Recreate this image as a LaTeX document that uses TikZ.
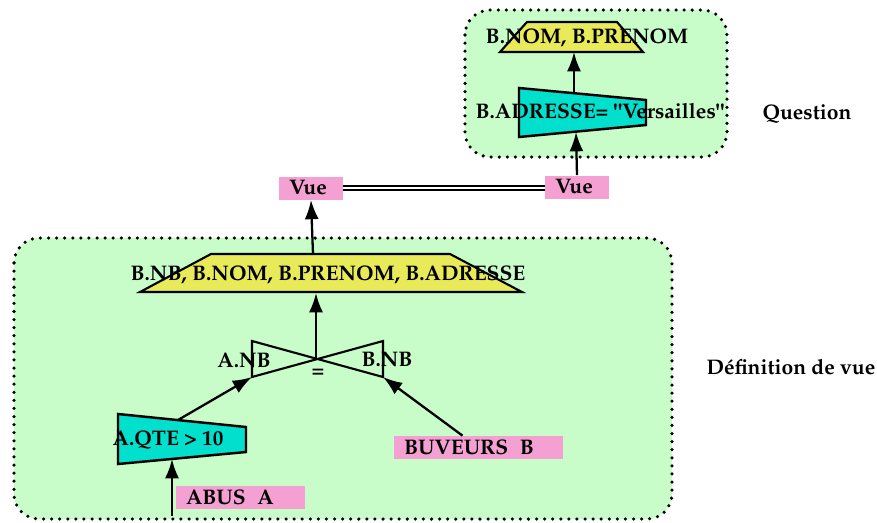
\documentclass[tikz,border=0pt]{standalone}
\usepackage[T1]{fontenc}
\usepackage{mathpazo}
\usepackage{tikz}
\usetikzlibrary{arrows.meta}

\definecolor{zonegreen}{RGB}{200,252,200}
\definecolor{projyellow}{RGB}{232,234,90}
\definecolor{selcyan}{RGB}{0,224,204}
\definecolor{relpink}{RGB}{244,160,210}

\tikzset{
  zone/.style={fill=zonegreen, draw=black, line width=2pt, line cap=round,
    dash pattern=on 0pt off 4.6pt, rounded corners=0.5cm},
  projshape/.style={fill=projyellow, draw=black, line width=1.2pt},
  selshape/.style={fill=selcyan, draw=black, line width=1.4pt},
  joinshape/.style={draw=black, line width=1.2pt},
  relbox/.style={fill=relpink, inner xsep=0.2cm, inner ysep=0pt, align=left,
    minimum height=0.46cm},
  lbl/.style={font=\fontsize{12}{14}\selectfont\bfseries, inner sep=0pt},
  flow/.style={line width=1.3pt, -{Latex[length=11pt,width=8pt]}},
}

\begin{document}
\begin{tikzpicture}[x=0.02cm,y=-0.02cm]
    \useasboundingbox (0,0) rectangle (877,522);
    % zones
    \draw[zone] (465,10) rectangle (727,157);
    \draw[zone] (14,238) rectangle (672,519);

    % question
    \draw[projshape] (527,22) -- (617,22) -- (643,52) -- (500,52) -- cycle;
    \coordinate (projQ) at (574,52);
    \draw[selshape] (519,88) -- (646,100) -- (646,125) -- (519,137) -- cycle;
    \coordinate (selQtop) at (574,93);
    \coordinate (selQbot) at (576,132);
    \node[lbl] (projQtxt) at (587,38) {B.NOM, B.PRENOM};
    \node[lbl] (selQtxt) at (600,111) {B.ADRESSE= \textquotedbl Versailles\textquotedbl};
    \node[lbl] (question) at (807,114) {Question};

    % vues
    \node[relbox, text width=0.88cm, minimum width=1.28cm] (vueA) at (311,188) {\fontsize{12}{14}\selectfont\bfseries Vue};
    \node[relbox, text width=0.88cm, minimum width=1.28cm] (vueB) at (577,187) {\fontsize{12}{14}\selectfont\bfseries Vue};
    \draw[line width=1.2pt, double distance=1.3pt] (vueA.east) -- (vueA.east -| vueB.west);

    % definition de vue
    \draw[projshape] (211,254) -- (450,254) -- (522,292) -- (140,292) -- cycle;
    \coordinate (projDtop) at (313,254);
    \coordinate (projDbot) at (316,293);
    \node[lbl] (projDtxt) at (328,275) {B.NB, B.NOM, B.PRENOM, B.ADRESSE};

    \draw[joinshape] (252,341) -- (383,377) -- (383,341) -- (252,377) -- cycle;
    \coordinate (joinC) at (316,359);
    \coordinate (joinL) at (252,377);
    \coordinate (joinR) at (383,377);
    \node[lbl] (attA) at (244,360) {A.NB};
    \node[lbl] (attB) at (387,360) {B.NB};
    \node[lbl] (eq) at (318,373) {=};

    \draw[selshape] (118,414) -- (246,427) -- (246,452) -- (118,464) -- cycle;
    \coordinate (selDtop) at (178,420);
    \coordinate (selDbot) at (172,459);
    \node[lbl] (selDtxt) at (168,440) {A.QTE > 10};

    \node[relbox, text width=2.18cm, minimum width=2.58cm] (abus) at (240.5,497.5) {\fontsize{12}{14}\selectfont\bfseries ABUS~~A};
    \node[relbox, text width=2.98cm, minimum width=3.38cm] (buveurs) at (478.5,447.5) {\fontsize{12}{14}\selectfont\bfseries BUVEURS~~B};
    \coordinate (abusIn) at (172,516);
    \node[lbl] (definition) at (791,367) {D\'efinition de vue};

    % connecteurs
    \draw[flow] (abusIn) -- (selDbot);
    \draw[flow] (selDtop) -- (joinL);
    \draw[flow] ([xshift=-0.32cm]buveurs.north) -- (joinR);
    \draw[flow] (joinC) -- (projDbot);
    \draw[flow] (projDtop) -- (vueA.south);
    \draw[flow] (vueB.north) -- (selQbot);
    \draw[flow] (selQtop) -- (projQ);
\end{tikzpicture}
\end{document}
